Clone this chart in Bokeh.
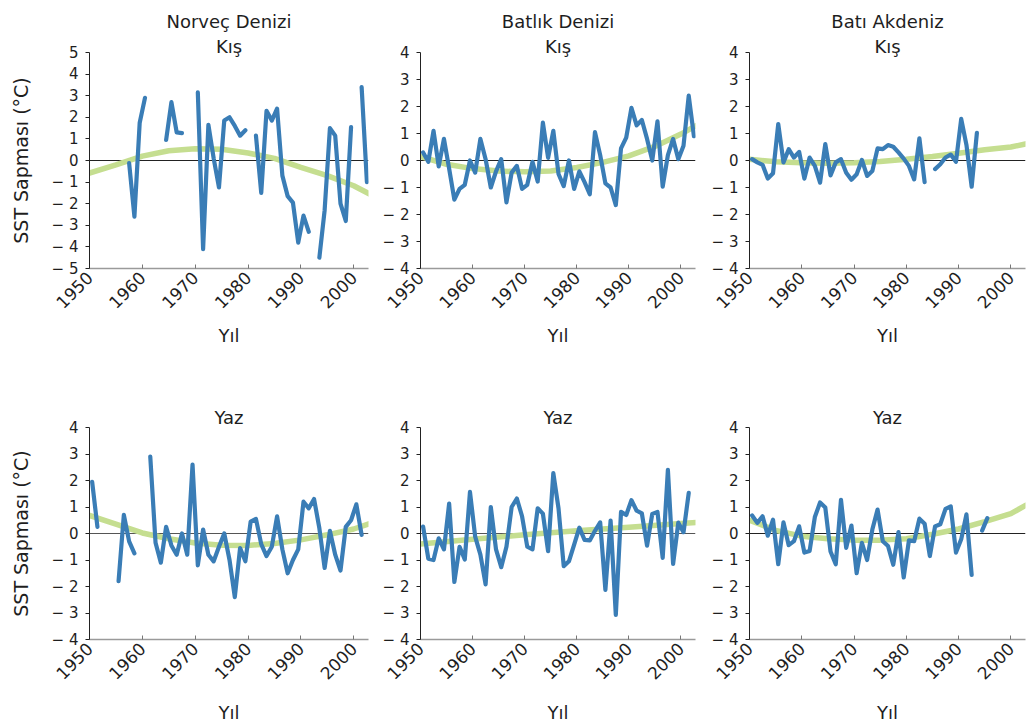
import math
import numpy as np
from bokeh.plotting import figure
from bokeh.models import Span, Title, FixedTicker, Range1d
from bokeh.layouts import column, row
from bokeh.embed import file_html
from bokeh.resources import INLINE

# ---------------- data ----------------
col_titles = ["Norveç Denizi", "Batlık Denizi", "Batı Akdeniz"]
row_titles = ["Kış", "Yaz"]
x_label = "Yıl"
y_label = "SST Sapması (°C)"
x_ticks = [1950, 1960, 1970, 1980, 1990, 2000]
y_ticks_5 = [-5, -4, -3, -2, -1, 0, 1, 2, 3, 4, 5]
y_labels_5 = ["− 5", "− 4", "− 3", "− 2", "− 1", "0", "1", "2", "3", "4", "5"]
y_ticks_4 = [-4, -3, -2, -1, 0, 1, 2, 3, 4]
y_labels_4 = ["− 4", "− 3", "− 2", "− 1", "0", "1", "2", "3", "4"]

# Norveç Denizi - Kış (winter)
nor_kis_years = list(range(1957, 2003))
nor_kis = [-0.12, -2.6, 1.75, 2.9, None, None, None, 0.95, 2.7, 1.3, 1.27, None, None,
           3.15, -4.1, 1.65, 0.1, -1.25, 1.85, 2.0, 1.6, 1.15, 1.4, None,
           1.15, -1.5, 2.3, 1.85, 2.4, -0.7, -1.65, -1.95, -3.8, -2.55, -3.3, None,
           -4.5, -2.3, 1.5, 1.15, -2.0, -2.8, 1.55, None, 3.4, -1.0]
nor_kis_trend_years = [1950, 1955, 1960, 1965, 1970, 1975, 1980, 1985, 1990, 1995, 2000, 2003]
nor_kis_trend = [-0.58, -0.2, 0.2, 0.45, 0.54, 0.52, 0.35, 0.1, -0.32, -0.7, -1.17, -1.55]

# Batlık Denizi - Kış
bal_kis_years = list(range(1950, 2003))
bal_kis = [0.3, -0.05, 1.1, -0.22, 0.8, -0.3, -1.45, -1.05, -0.9, 0.0,
           -0.45, 0.8, 0.05, -1.0, -0.4, 0.05, -1.55, -0.45, -0.2, -1.05,
           -0.9, -0.05, -0.78, 1.4, 0.1, 1.1, -0.5, -0.95, 0.0, -1.05,
           -0.4, -0.8, -1.25, 1.05, 0.2, -0.85, -1.0, -1.65, 0.45, 0.85,
           1.95, 1.3, 1.5, 0.8, 0.0, 1.45, -0.97, 0.2, 0.8, 0.05,
           0.55, 2.4, 0.9]
bal_kis_trend_years = [1950, 1955, 1960, 1965, 1970, 1975, 1980, 1985, 1990, 1995, 2000, 2003]
bal_kis_trend = [0.15, -0.14, -0.3, -0.39, -0.42, -0.39, -0.26, -0.07, 0.17, 0.52, 0.98, 1.3]

# Batı Akdeniz - Kış
med_kis_years = list(range(1950, 1994))
med_kis = [0.05, -0.07, -0.16, -0.67, -0.47, 1.35, -0.07, 0.42, 0.11, 0.32,
           -0.67, 0.11, -0.2, -0.82, 0.61, -0.55, -0.07, 0.05, -0.45, -0.71,
           -0.51, 0.02, -0.57, -0.39, 0.45, 0.42, 0.57, 0.51, 0.3, 0.07,
           -0.2, -0.7, 0.82, -0.8, None, -0.32, -0.14, 0.11, 0.22, -0.05,
           1.54, 0.58, -0.97, 1.02]
med_kis_trend_years = [1950, 1955, 1960, 1965, 1970, 1975, 1980, 1985, 1990, 1995, 2000, 2003]
med_kis_trend = [0.05, -0.05, -0.08, -0.1, -0.08, -0.04, 0.05, 0.15, 0.27, 0.4, 0.5, 0.62]

# Norveç Denizi - Yaz (summer)
nor_yaz_years = list(range(1950, 2002))
nor_yaz = [1.95, 0.25, None, None, None, -1.8, 0.7, -0.3, -0.75, None,
           None, 2.9, -0.35, -1.1, 0.25, -0.45, -0.8, 0.0, -0.8, 2.6,
           -1.2, 0.15, -0.8, -1.05, -0.5, 0.0, -1.0, -2.4, -0.55, -1.05,
           0.45, 0.55, -0.4, -0.85, -0.5, 0.65, -0.6, -1.5, -1.0, -0.6,
           1.2, 0.95, 1.3, 0.2, -1.3, 0.1, -0.8, -1.4, 0.25, 0.5,
           1.1, -0.05]
nor_yaz_trend_years = [1950, 1955, 1960, 1965, 1970, 1975, 1980, 1985, 1990, 1995, 2000, 2003]
nor_yaz_trend = [0.68, 0.35, 0.02, -0.2, -0.36, -0.44, -0.45, -0.38, -0.24, -0.05, 0.17, 0.37]

# Batlık Denizi - Yaz
bal_yaz_years = list(range(1950, 2002))
bal_yaz = [0.26, -0.95, -1.0, -0.18, -0.6, 1.13, -1.83, -0.5, -0.98, 1.57,
           -0.12, -0.8, -1.92, 1.0, -0.6, -1.27, -0.5, 1.0, 1.32, 0.65,
           -0.5, -0.6, 0.95, 0.75, -0.67, 2.28, 0.95, -1.23, -1.05, -0.42,
           0.22, -0.24, -0.26, 0.1, 0.42, -2.13, 0.49, -3.07, 0.82, 0.7,
           1.26, 0.86, 0.76, -0.46, 0.74, 0.81, -0.92, 2.4, -1.15, 0.41,
           0.05, 1.53]
bal_yaz_trend_years = [1950, 1960, 1970, 1980, 1990, 2000, 2003]
bal_yaz_trend = [-0.4, -0.22, -0.05, 0.1, 0.24, 0.38, 0.42]

# Batı Akdeniz - Yaz
med_yaz_years = list(range(1950, 1996))
med_yaz = [0.68, 0.4, 0.65, -0.08, 0.52, -1.16, 0.42, -0.44, -0.29, 0.27,
           -0.72, -0.66, 0.62, 1.17, 0.98, -0.68, -1.16, 1.27, -0.54, 0.3,
           -1.5, -0.35, -1.0, 0.15, 0.9, -0.29, -0.47, -1.18, 0.05, -1.66,
           -0.26, -0.29, 0.56, 0.37, -0.85, 0.27, 0.35, 0.93, 1.02, -0.72,
           -0.22, 0.72, -1.56, None, 0.11, 0.58]
med_yaz_trend_years = [1950, 1955, 1960, 1965, 1970, 1975, 1980, 1985, 1990, 1995, 2000, 2003]
med_yaz_trend = [0.5, 0.12, -0.1, -0.2, -0.25, -0.25, -0.2, -0.03, 0.17, 0.45, 0.75, 1.08]

# ---------------- style ----------------
FONT = "DejaVu Sans"
TXT = "#1e1e1e"
BLUE = "#3a7db6"
GREEN = "#c5de90"
X_START, X_END = 1950, 2002.8


def panel(width, height, lb, rb, tb, bb, ylim, yticks, ylabels,
          years, vals, tyears, tvals, sub_title, col_title=None, ylab=None,
          xlab_standoff=14, zero_color="#222222"):
    p = figure(width=width, height=height,
               x_range=Range1d(X_START, X_END), y_range=Range1d(*ylim),
               output_backend="svg", toolbar_location=None,
               min_border_left=lb, min_border_right=rb,
               min_border_top=tb, min_border_bottom=bb)
    p.background_fill_color = "white"
    p.border_fill_color = "white"
    p.outline_line_color = None
    p.grid.visible = False

    def style_title(t):
        t.align = "center"
        t.text_font = FONT
        t.text_font_size = "18px"
        t.text_font_style = "normal"
        t.text_color = TXT

    if col_title:
        # outer title = sea name, inner title = season
        p.title.text = col_title
        style_title(p.title)
        p.title.standoff = 11
        sub = Title(text=sub_title, standoff=-8)
        style_title(sub)
        p.add_layout(sub, "above")
    else:
        p.title.text = sub_title
        style_title(p.title)
        p.title.standoff = -1

    xa = p.xaxis[0]
    xa.ticker = FixedTicker(ticks=x_ticks)
    xa.major_label_orientation = math.pi / 4
    xa.major_label_text_font = FONT
    xa.major_label_text_font_size = "17px"
    xa.major_label_text_color = TXT
    xa.axis_line_color = "#9a9a9a"
    xa.axis_line_width = 1.5
    xa.major_tick_line_color = "#777777"
    xa.major_tick_in = 4
    xa.major_tick_out = 0
    xa.minor_tick_line_color = None
    xa.major_label_standoff = 6
    xa.axis_label = x_label
    xa.axis_label_text_font = FONT
    xa.axis_label_text_font_size = "18px"
    xa.axis_label_text_font_style = "normal"
    xa.axis_label_text_color = TXT
    xa.axis_label_standoff = xlab_standoff

    ya = p.yaxis[0]
    ya.ticker = FixedTicker(ticks=yticks)
    ya.major_label_overrides = {t: l for t, l in zip(yticks, ylabels)}
    ya.major_label_text_font = FONT
    ya.major_label_text_font_size = "15px"
    ya.major_label_text_color = TXT
    ya.axis_line_color = "#222222"
    ya.major_tick_line_color = "#222222"
    ya.major_tick_in = 0
    ya.major_tick_out = 4
    ya.minor_tick_line_color = None
    ya.major_label_standoff = 7
    if ylab:
        ya.axis_label = ylab
        ya.axis_label_text_font = FONT
        ya.axis_label_text_font_size = "19px"
        ya.axis_label_text_font_style = "normal"
        ya.axis_label_text_color = TXT
        ya.axis_label_standoff = 17

    p.add_layout(Span(location=0, dimension="width", line_color=zero_color,
                      line_width=1, level="underlay"))

    p.line(tyears, tvals, line_color=GREEN, line_width=5.5, line_cap="round")
    mid = np.array(years, dtype=float) + 0.5  # annual values plotted at mid-year
    p.line(mid, np.array(vals, dtype=float), line_color=BLUE, line_width=4.2,
           line_cap="round", line_join="round")
    return p


# geometry of the three columns / two rows
W = [375, 330, 322]
LB = [89, 45, 44]
RB = [7, 10, 2]
H = [370, 356]
TB = [52, 57]
BB = [102, 85]
XLAB_STANDOFF = [8, 14]
ZERO_COLORS = [["#222222", "#222222", "#222222"], ["#555555", "#555555", "#222222"]]

top_series = [(nor_kis_years, nor_kis, nor_kis_trend_years, nor_kis_trend, (-5, 5), y_ticks_5, y_labels_5),
              (bal_kis_years, bal_kis, bal_kis_trend_years, bal_kis_trend, (-4, 4), y_ticks_4, y_labels_4),
              (med_kis_years, med_kis, med_kis_trend_years, med_kis_trend, (-4, 4), y_ticks_4, y_labels_4)]
bot_series = [(nor_yaz_years, nor_yaz, nor_yaz_trend_years, nor_yaz_trend, (-4, 4), y_ticks_4, y_labels_4),
              (bal_yaz_years, bal_yaz, bal_yaz_trend_years, bal_yaz_trend, (-4, 4), y_ticks_4, y_labels_4),
              (med_yaz_years, med_yaz, med_yaz_trend_years, med_yaz_trend, (-4, 4), y_ticks_4, y_labels_4)]

rows = []
for r, series in enumerate([top_series, bot_series]):
    figs = []
    for c, (yrs, vals, tyrs, tvals, ylim, yt, yl) in enumerate(series):
        figs.append(panel(W[c], H[r], LB[c], RB[c], TB[r], BB[r], ylim, yt, yl,
                          yrs, vals, tyrs, tvals, row_titles[r],
                          col_title=col_titles[c] if r == 0 else None,
                          ylab=y_label if c == 0 else None,
                          xlab_standoff=XLAB_STANDOFF[r],
                          zero_color=ZERO_COLORS[r][c]))
    rows.append(row(*figs))

layout = column(*rows)
open("out.html", "w").write(file_html(layout, INLINE))
